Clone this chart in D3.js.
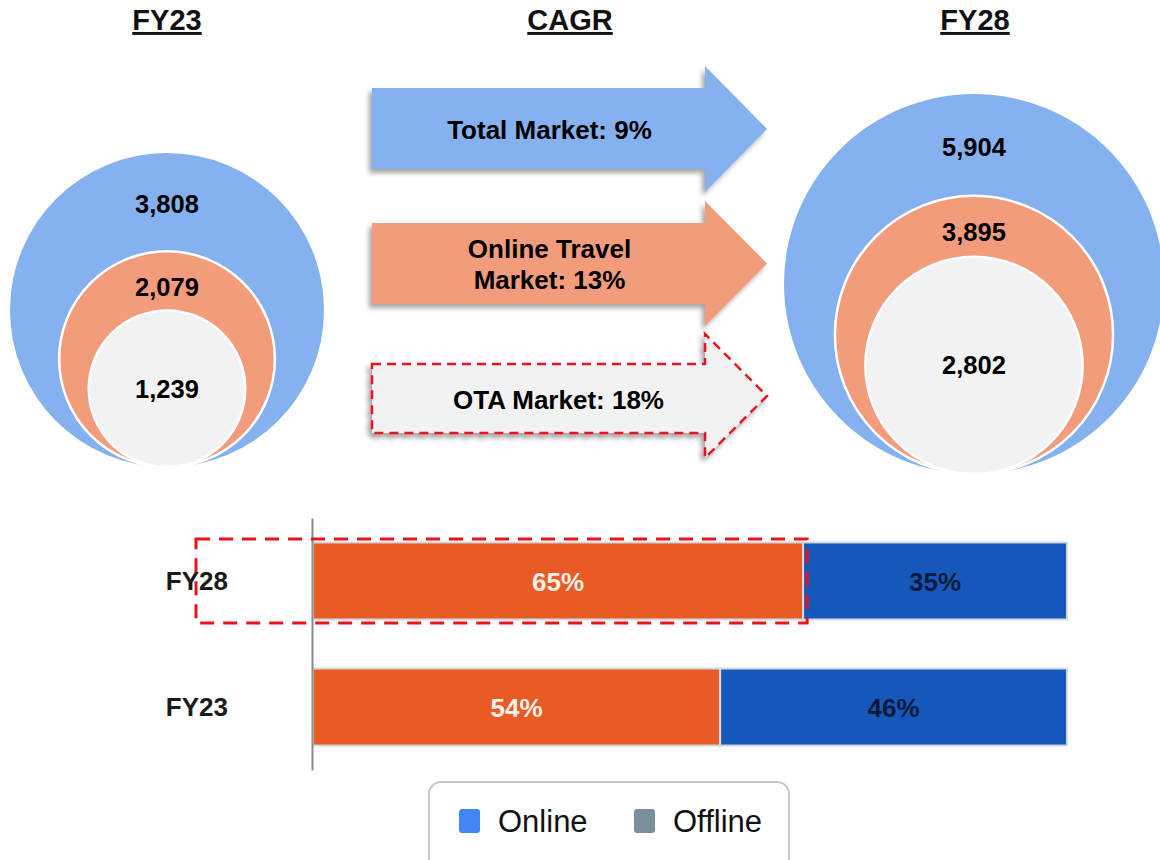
<!DOCTYPE html>
<html>
<head>
<meta charset="utf-8">
<script src="https://cdn.jsdelivr.net/npm/d3@7"></script>
<style>
  html, body { margin: 0; padding: 0; background: #fff; }
  svg { display: block; font-family: "Liberation Sans", Arial, Helvetica, sans-serif; }
</style>
</head>
<body>
<svg id="chart" width="1160" height="860"></svg>
<script>
// ---------------- DATA ----------------
const years = ["FY23", "FY28"];
const totalMarket = [3808, 5904];
const onlineTravelMarket = [2079, 3895];
const otaMarket = [1239, 2802];
const cagrLines = [["Total Market: 9%"], ["Online Travel", "Market: 13%"], ["OTA Market: 18%"]];
const barCategories = ["FY28", "FY23"];
const onlineShare = [65, 54];
const offlineShare = [35, 46];
const legendLabels = ["Online", "Offline"];

// ---------------- SETUP ----------------
const svg = d3.select("#chart");
const fmt = d3.format(",");

const defs = svg.append("defs");
const f = defs.append("filter").attr("id", "shadow")
  .attr("x", "-10%").attr("y", "-10%").attr("width", "120%").attr("height", "130%");
f.append("feDropShadow").attr("dx", -3).attr("dy", 4).attr("stdDeviation", 2.5)
  .attr("flood-color", "#000").attr("flood-opacity", 0.35);

// ---------------- TITLES ----------------
const titles = [
  { t: years[0], x: 167 },
  { t: "CAGR", x: 570 },
  { t: years[1], x: 975 }
];
svg.selectAll("text.title").data(titles).join("text")
  .attr("class", "title")
  .attr("x", d => d.x).attr("y", 30)
  .attr("text-anchor", "middle")
  .attr("font-size", 29).attr("font-weight", "bold")
  .attr("fill", "#111")
  .attr("text-decoration", "underline")
  .text(d => d.t);

// ---------------- NESTED CIRCLES ----------------
const panels = [
  { i: 0, cx: 167, bottom: 467, R: 157, exp: 0.62 },
  { i: 1, cx: 974, bottom: 474, R: 190, exp: 0.75 }
];
const circleColors = ["#86B1EF", "#F39C7C", "#F2F2F2"];

panels.forEach(p => {
  const vals = [totalMarket[p.i], onlineTravelMarket[p.i], otaMarket[p.i]];
  const r = d3.scalePow().exponent(p.exp).domain([0, d3.max(vals)]).range([0, p.R]);
  const g = svg.append("g");
  const circles = vals.map((v, k) => ({ v, k, r: r(v), cy: p.bottom - r(v) }));
  g.selectAll("circle").data(circles).join("circle")
    .attr("cx", p.cx)
    .attr("cy", d => d.cy)
    .attr("r", d => d.r)
    .attr("fill", d => circleColors[d.k])
    .attr("stroke", d => d.k === 0 ? "none" : "#fff")
    .attr("stroke-width", 2.5);
  const tops = circles.map(c => c.cy - c.r);
  const labelY = [
    (tops[0] + tops[1]) / 2 + 11,
    (tops[1] + tops[2]) / 2 + 15,
    circles[2].cy + 9
  ];
  g.selectAll("text").data(circles).join("text")
    .attr("x", p.cx)
    .attr("y", d => labelY[d.k])
    .attr("text-anchor", "middle")
    .attr("font-size", 25.5).attr("font-weight", "bold")
    .attr("fill", "#000")
    .text(d => fmt(d.v));
});

// ---------------- CAGR ARROWS ----------------
const arrows = [
  { bodyTop: 88, bodyBot: 169, headTop: 66, headBot: 192, fill: "#86B1EF", dashed: false },
  { bodyTop: 223, bodyBot: 304, headTop: 201, headBot: 326, fill: "#F39C7C", dashed: false },
  { bodyTop: 364, bodyBot: 433, headTop: 334, headBot: 458, fill: "#F2F2F2", dashed: true }
];
const ax0 = 372, axNeck = 705, axTip = 767;
arrows.forEach((a, i) => {
  const midY = (a.headTop + a.headBot) / 2;
  const pts = [
    [ax0, a.bodyTop], [axNeck, a.bodyTop], [axNeck, a.headTop], [axTip, midY],
    [axNeck, a.headBot], [axNeck, a.bodyBot], [ax0, a.bodyBot]
  ];
  svg.append("path")
    .attr("d", d3.line()(pts) + "Z")
    .attr("fill", a.fill)
    .attr("filter", "url(#shadow)")
    .attr("stroke", a.dashed ? "#E8141B" : "none")
    .attr("stroke-width", a.dashed ? 2.5 : 0)
    .attr("stroke-dasharray", a.dashed ? "9,6" : null);
  const lines = cagrLines[i];
  const cx = (ax0 + axNeck) / 2 + (i === 2 ? 20 : 11);
  const lh = 31;
  const bodyMid = (a.bodyTop + a.bodyBot) / 2;
  const startY = bodyMid - (lines.length - 1) * lh / 2 + 10;
  svg.append("g").selectAll("text").data(lines).join("text")
    .attr("x", cx)
    .attr("y", (d, j) => startY + j * lh)
    .attr("text-anchor", "middle")
    .attr("font-size", 26).attr("font-weight", "bold")
    .attr("fill", "#000")
    .text(d => d);
});

// ---------------- STACKED BARS ----------------
const x = d3.scaleLinear().domain([0, 100]).range([313, 1067]);
const y = d3.scaleBand().domain(barCategories).range([518, 770])
  .paddingInner(0.389).paddingOuter(0.194);

const barData = barCategories.map((c, i) => ({ c, on: onlineShare[i], off: offlineShare[i] }));
const bars = svg.append("g");
barData.forEach(d => {
  bars.append("rect")
    .attr("x", x(0)).attr("y", y(d.c))
    .attr("width", x(d.on) - x(0)).attr("height", y.bandwidth())
    .attr("fill", "#E95B25").attr("stroke", "#D5D8DD").attr("stroke-width", 2);
  bars.append("rect")
    .attr("x", x(d.on)).attr("y", y(d.c))
    .attr("width", x(d.on + d.off) - x(d.on)).attr("height", y.bandwidth())
    .attr("fill", "#1657BA").attr("stroke", "#D5D8DD").attr("stroke-width", 2);
  bars.append("text")
    .attr("x", (x(0) + x(d.on)) / 2).attr("y", y(d.c) + y.bandwidth() / 2 + 10)
    .attr("text-anchor", "middle").attr("font-size", 26).attr("font-weight", "bold")
    .attr("fill", "#FBEFE8").text(d.on + "%");
  bars.append("text")
    .attr("x", (x(d.on) + x(d.on + d.off)) / 2).attr("y", y(d.c) + y.bandwidth() / 2 + 10)
    .attr("text-anchor", "middle").attr("font-size", 26).attr("font-weight", "bold")
    .attr("fill", "#0B1A3C").text(d.off + "%");
});

// category axis
const yAxis = d3.axisLeft(y).tickSize(0).tickPadding(84);
const axG = svg.append("g").attr("transform", "translate(312,0)").call(yAxis);
axG.select(".domain").attr("stroke", "#8a8a8a").attr("stroke-width", 2);
axG.selectAll("text")
  .attr("font-size", 26).attr("font-weight", "bold").attr("fill", "#1a1a1a")
  .attr("dy", "0.36em")
  .attr("font-family", "Liberation Sans, Arial, sans-serif");

// red dashed highlight
svg.append("rect")
  .attr("x", 196).attr("y", 539)
  .attr("width", x(onlineShare[0]) + 4 - 196).attr("height", 84)
  .attr("fill", "none").attr("stroke", "#E8141B").attr("stroke-width", 3)
  .attr("stroke-dasharray", "14,9");

// ---------------- LEGEND ----------------
svg.append("rect")
  .attr("x", 429).attr("y", 782).attr("width", 360).attr("height", 100)
  .attr("rx", 12).attr("fill", "#fff").attr("stroke", "#C8C8C8").attr("stroke-width", 2);
const legendColors = ["#4285F4", "#78909C"];
const legendX = [459, 634];
const lg = svg.append("g").selectAll("g").data(legendLabels).join("g")
  .attr("transform", (d, i) => `translate(${legendX[i]},809)`);
lg.append("rect").attr("width", 21).attr("height", 24).attr("rx", 3)
  .attr("fill", (d, i) => legendColors[i]);
lg.append("text").attr("x", 39).attr("y", 23)
  .attr("font-size", 31).attr("fill", "#111").text(d => d);
</script>
</body>
</html>
